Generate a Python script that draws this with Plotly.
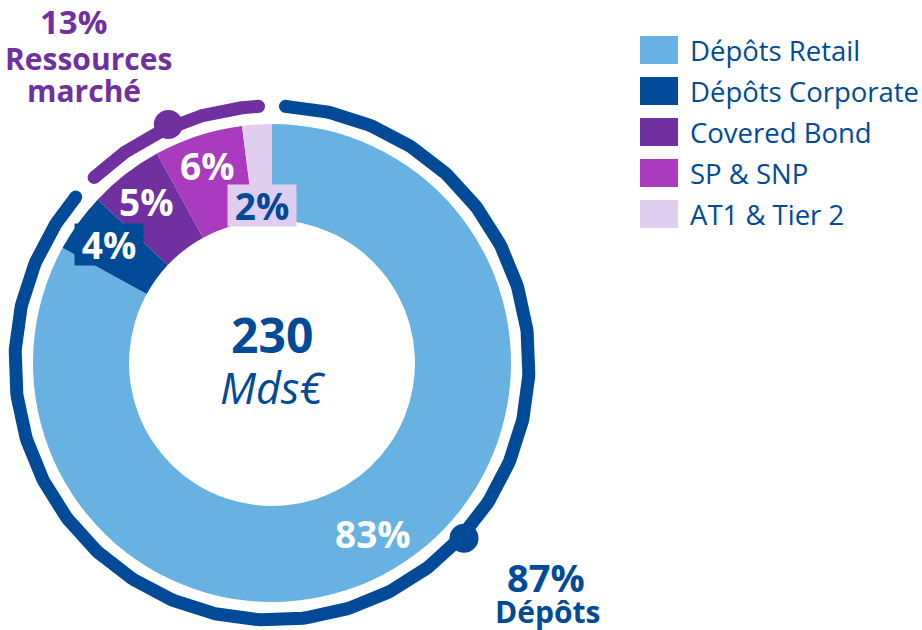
import numpy as np
import plotly.graph_objects as go

# Funding mix (share of total, %)
categories = ["Dépôts Retail", "Dépôts Corporate", "Covered Bond", "SP & SNP", "AT1 & Tier 2"]
shares = [83, 4, 5, 6, 2]
colors = ["#67B2E2", "#004A98", "#7030A0", "#AA3ABE", "#DFCEF0"]
label_colors = ["white", "white", "white", "white", "#004A98"]
label_boxes = [None, "#004A98", None, None, "#DFCEF0"]

# Grouping shown by the outer arcs
groups = ["Dépôts", "Ressources marché"]
group_shares = [87, 13]
group_colors = ["#004A98", "#7030A0"]

total_label = "230"
unit_label = "Mds€"

FONT = "Open Sans"
W, H = 922, 630
CX, CY = 272, 363          # donut centre, px
R_OUT, R_IN = 239, 143     # donut radii, px
R_ARC, ARC_W = 257, 13     # outer group arcs
ARC_GAP = 3.0              # degrees left blank at each arc end
label_r = [198, 202, 204, 208, 158]

fig = go.Figure()

# Donut
fig.add_trace(go.Pie(
    labels=categories, values=shares, sort=False, direction="clockwise", rotation=0,
    hole=R_IN / R_OUT, marker=dict(colors=colors, line=dict(width=0)),
    textinfo="none", hoverinfo="label+percent", showlegend=False,
    domain=dict(x=[(CX - R_OUT) / W, (CX + R_OUT) / W],
                y=[1 - (CY + R_OUT) / H, 1 - (CY - R_OUT) / H]),
))


def polar(r, deg):
    t = np.radians(deg)
    return CX + r * np.sin(t), CY - r * np.cos(t)


# Outer arcs for the two groups
start = 0.0
for name, share, col in zip(groups, group_shares, group_colors):
    a0 = start * 3.6 + ARC_GAP
    a1 = (start + share) * 3.6 - ARC_GAP
    th = np.linspace(a0, a1, 400)
    x, y = polar(R_ARC, th)
    fig.add_trace(go.Scatter(x=x, y=y, mode="lines", line=dict(color=col, width=ARC_W),
                             hoverinfo="skip", showlegend=False))
    ex, ey = polar(R_ARC, np.array([a0, a1]))
    fig.add_trace(go.Scatter(x=ex, y=ey, mode="markers", marker=dict(color=col, size=ARC_W),
                             hoverinfo="skip", showlegend=False))
    start += share

# Dots on the arcs
dot_angles = [132.4, 336.5]
for ang, col in zip(dot_angles, group_colors):
    dx, dy = polar(R_ARC + 3, np.array([ang]))
    fig.add_trace(go.Scatter(x=dx, y=dy, mode="markers", marker=dict(color=col, size=29),
                             hoverinfo="skip", showlegend=False))

ann = []
# Slice labels
cum = 0.0
for v, r, tc, bg in zip(shares, label_r, label_colors, label_boxes):
    mid = (cum + v / 2) * 3.6
    lx, ly = polar(r, mid)
    a = dict(x=float(lx), y=float(ly), xref="x", yref="y", text=f"{v}%", showarrow=False,
             font=dict(family=FONT, size=37, color=tc, weight="bold"))
    if bg:
        a.update(bgcolor=bg, borderpad=3, width=62, height=35)
    ann.append(a)
    cum += v

# Centre total
ann.append(dict(x=CX, y=CY - 29, xref="x", yref="y", text=f"<b>{total_label}</b>", showarrow=False,
                font=dict(family=FONT, size=48, color="#004A98")))
ann.append(dict(x=CX, y=CY + 24, xref="x", yref="y", text=f"<i>{unit_label}</i>", showarrow=False,
                font=dict(family=FONT, size=43, color="#004A98")))

# Group labels
ann.append(dict(x=546, y=577, xref="x", yref="y", text=f"<b>{group_shares[0]}%</b>", showarrow=False,
                font=dict(family=FONT, size=38, color=group_colors[0])))
ann.append(dict(x=547, y=611, xref="x", yref="y", text=f"<b>{groups[0]}</b>", showarrow=False,
                font=dict(family=FONT, size=30, color=group_colors[0])))
ann.append(dict(x=73, y=21, xref="x", yref="y", text=f"<b>{group_shares[1]}%</b>", showarrow=False,
                font=dict(family=FONT, size=33, color=group_colors[1])))
w1, w2 = groups[1].split(" ")
ann.append(dict(x=88, y=58, xref="x", yref="y", text=f"<b>{w1}</b>", showarrow=False,
                font=dict(family=FONT, size=30, color=group_colors[1])))
ann.append(dict(x=84, y=90, xref="x", yref="y", text=f"<b>{w2}</b>", showarrow=False,
                font=dict(family=FONT, size=30, color=group_colors[1])))

# Legend
shapes = []
LX0, LX1, LY0, LSTEP, LBOX = 640, 678, 50, 41, 28
for i, (cat, col) in enumerate(zip(categories, colors)):
    yc = LY0 + i * LSTEP
    shapes.append(dict(type="rect", xref="x", yref="y", x0=LX0, x1=LX1, y0=yc - LBOX / 2,
                       y1=yc + LBOX / 2, fillcolor=col, line=dict(width=0), layer="below"))
    ann.append(dict(x=688, y=yc, xref="x", yref="y", text=cat, showarrow=False, xanchor="left",
                    font=dict(family=FONT, size=27.5, color="#004A98")))

fig.update_layout(
    width=W, height=H, margin=dict(l=0, r=0, t=0, b=0),
    paper_bgcolor="white", plot_bgcolor="white",
    xaxis=dict(range=[0, W], visible=False, fixedrange=True),
    yaxis=dict(range=[H, 0], visible=False, fixedrange=True),
    annotations=ann, shapes=shapes, showlegend=False,
)

fig.write_html("out.html")
